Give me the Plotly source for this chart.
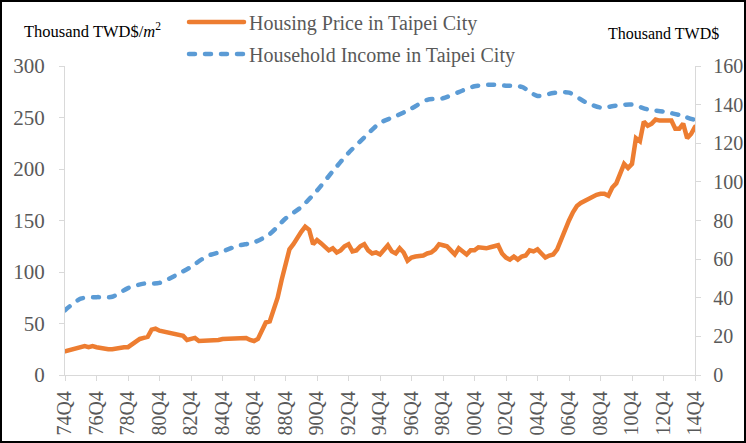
import plotly.graph_objects as go

# ---------------- data ----------------
quarters = []
for yr in range(1974, 2015):
    for q in (1, 2, 3, 4):
        if yr == 1974 and q < 4:
            continue
        quarters.append(f"{yr % 100:02d}Q{q}")
quarters = quarters[:161]

housing_price = [
    23, 24, 25, 27, 27, 28, 27, 28, 27, 26,
    26, 25, 25, 26, 27, 27, 27, 30, 33, 35,
    36, 37, 44, 45, 43, 42, 41, 40, 39, 38,
    38, 34, 35, 36, 33, 33, 34, 34, 33, 34,
    35, 35, 36, 36, 35, 35, 36, 34, 33, 35,
    42, 51, 52, 65, 75, 92, 109, 122, 127, 134,
    139, 144, 141, 127, 131, 128, 124, 121, 123, 119,
    121, 125, 127, 120, 121, 125, 127, 121, 118, 119,
    117, 121, 126, 120, 118, 123, 119, 111, 114, 115,
    115, 116, 118, 119, 122, 127, 126, 125, 121, 117,
    123, 120, 117, 121, 121, 124, 123, 123, 124, 125,
    126, 118, 114, 112, 115, 112, 115, 116, 121, 120,
    122, 118, 114, 116, 117, 122, 132, 141, 150, 158,
    164, 167, 169, 172, 174, 175, 176, 176, 174, 182,
    186, 196, 205, 201, 205, 230, 227, 246, 242, 244,
    248, 247, 247, 247, 247, 239, 239, 244, 230, 234,
    241,
]

income_years = [f"{y % 100:02d}Q4" for y in range(1974, 2015)]
household_income = [
    33.5, 39.5, 40.3, 40.5, 45, 47.3, 47.7, 51.5, 56, 61.5,
    64, 67, 68.7, 73, 81, 87, 95.5, 105.5, 115, 123,
    130.5, 134, 138, 142.5, 143.3, 146.5, 149.5, 150.3, 149.8, 149.2,
    144.5, 146, 146.2, 141.5, 138.5, 139.5, 140, 137.5, 136.4, 134.6,
    132,
]

tick_labels = ["74Q4", "76Q4", "78Q4", "80Q4", "82Q4", "84Q4", "86Q4", "88Q4",
               "90Q4", "92Q4", "94Q4", "96Q4", "98Q4", "00Q4", "02Q4", "04Q4",
               "06Q4", "08Q4", "10Q4", "12Q4", "14Q4"]

# ---------------- figure ----------------
FONT = "Liberation Serif, Times New Roman, serif"
GRAY = "#595959"
AXIS = "#D9D9D9"
W, H = 746, 443
L, R, T, B = 65, 51, 66, 68
pw, ph = W - L - R, H - T - B


def px_x(px):
    return (px - L) / pw


def px_y(py):
    return (H - B - py) / ph


fig = go.Figure()
fig.add_trace(go.Scatter(
    x=quarters, y=housing_price, mode="lines",
    name="Housing Price in Taipei City", legendgroup="a",
    line=dict(color="#ED7D31", width=4.5),
))
fig.add_trace(go.Scatter(
    x=income_years, y=household_income, mode="lines", yaxis="y2",
    name="Household Income in Taipei City", legendgroup="b",
    line=dict(color="#5B9BD5", width=4.5, dash="6px,10px", shape="spline", smoothing=0.8),
))

axis_common = dict(
    ticks="outside", ticklen=5, tickcolor=AXIS,
    showline=True, linecolor=AXIS, linewidth=1.3,
    showgrid=False, zeroline=False, automargin=False,
)

fig.update_layout(
    width=W, height=H,
    margin=dict(l=L, r=R, t=T, b=B, autoexpand=False),
    paper_bgcolor="white", plot_bgcolor="white",
    font=dict(family=FONT, color=GRAY, size=20),
    showlegend=True,
    legend=dict(
        x=px_x(184), y=px_y(2.5), xanchor="left", yanchor="top",
        font=dict(family=FONT, size=20, color=GRAY),
        bgcolor="rgba(0,0,0,0)", itemwidth=55, tracegroupgap=3,
    ),
    xaxis=dict(
        type="category", categoryorder="array", categoryarray=quarters,
        range=[0, len(quarters) - 1],
        tickmode="array", tickvals=tick_labels, ticktext=tick_labels,
        tickangle=-90, ticklabelstandoff=2,
        tickfont=dict(family=FONT, size=20, color=GRAY),
        **axis_common,
    ),
    yaxis=dict(
        range=[0, 300], dtick=50, tick0=0,
        ticklabelstandoff=10,
        tickfont=dict(family=FONT, size=21, color=GRAY),
        **axis_common,
    ),
    yaxis2=dict(
        range=[0, 160], dtick=20, tick0=0, overlaying="y", side="right",
        ticklabelstandoff=8,
        tickfont=dict(family=FONT, size=20, color=GRAY),
        **axis_common,
    ),
    annotations=[
        dict(xref="paper", yref="paper", x=px_x(22), y=px_y(30),
             xanchor="left", yanchor="middle", showarrow=False,
             text="Thousand TWD$/<i>m</i><sup>2</sup>",
             font=dict(family=FONT, size=16.5, color="#000000")),
        dict(xref="paper", yref="paper", x=px_x(606), y=px_y(34),
             xanchor="left", yanchor="middle", showarrow=False,
             text="Thousand TWD$",
             font=dict(family=FONT, size=16, color="#000000")),
    ],
    shapes=[
        dict(type="rect", xref="paper", yref="paper",
             x0=px_x(1), x1=px_x(745), y0=px_y(442), y1=px_y(1),
             line=dict(color="black", width=2), fillcolor="rgba(0,0,0,0)"),
    ],
)

post = """
document.body.style.margin = '0';
document.querySelectorAll('.js-line').forEach(function (e) {
  e.style.strokeLinecap = 'round';
});
"""

fig.write_html("out.html", post_script=post, config={"displayModeBar": False})
